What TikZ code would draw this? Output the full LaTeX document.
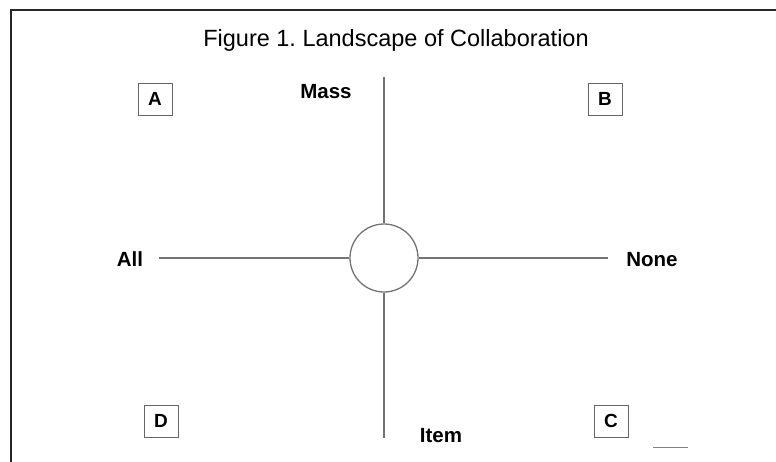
\documentclass[tikz,border=0pt]{standalone}
\usepackage{fontspec}
\setmainfont{Liberation Sans}
\frenchspacing

\begin{document}
\begin{tikzpicture}[
  x=1pt, y=-1pt,
  axis/.style={draw=black!55, line width=1.3pt},
  pole/.style={anchor=base, font=\fontsize{20.5}{24}\selectfont\bfseries},
  quad/.style={draw=black!60, line width=0.8pt, minimum width=34pt, minimum height=32pt,
    inner sep=0pt, font=\fontsize{19}{22}\selectfont\bfseries}
]
  \useasboundingbox (0,0) rectangle (776,462);
  \draw[line width=2pt, black!85] (11,462) -- (11,10) -- (776,10);

  \node[anchor=base, font=\fontsize{23.5}{28}\selectfont] (title) at (396,47)
    {Figure 1. Landscape of Collaboration};

  % centre and axes
  \node[axis, circle, minimum size=68pt, inner sep=0pt] (hub) at (384,258) {};
  \coordinate (top) at (384,77);
  \coordinate (bot) at (384,438);
  \coordinate (lft) at (159,258);
  \coordinate (rgt) at (608,258);
  \draw[axis] (hub.north) -- (top);
  \draw[axis] (hub.south) -- (bot);
  \draw[axis] (hub.west) -- (lft);
  \draw[axis] (hub.east) -- (rgt);

  \node[pole] (mass) at (326,99) {Mass};
  \node[pole] (item) at (441,442) {Item};
  \node[pole] (all) at (130,266) {All};
  \node[pole] (none) at (652,266) {None};

  % quadrants
  \node[quad] (qa) at (155,99) {A};
  \node[quad] (qb) at (605,99) {B};
  \node[quad] (qc) at (611,421) {C};
  \node[quad] (qd) at (161,421) {D};

  \draw[black!50, line width=1pt] (653,447) -- (688,447);
\end{tikzpicture}
\end{document}
